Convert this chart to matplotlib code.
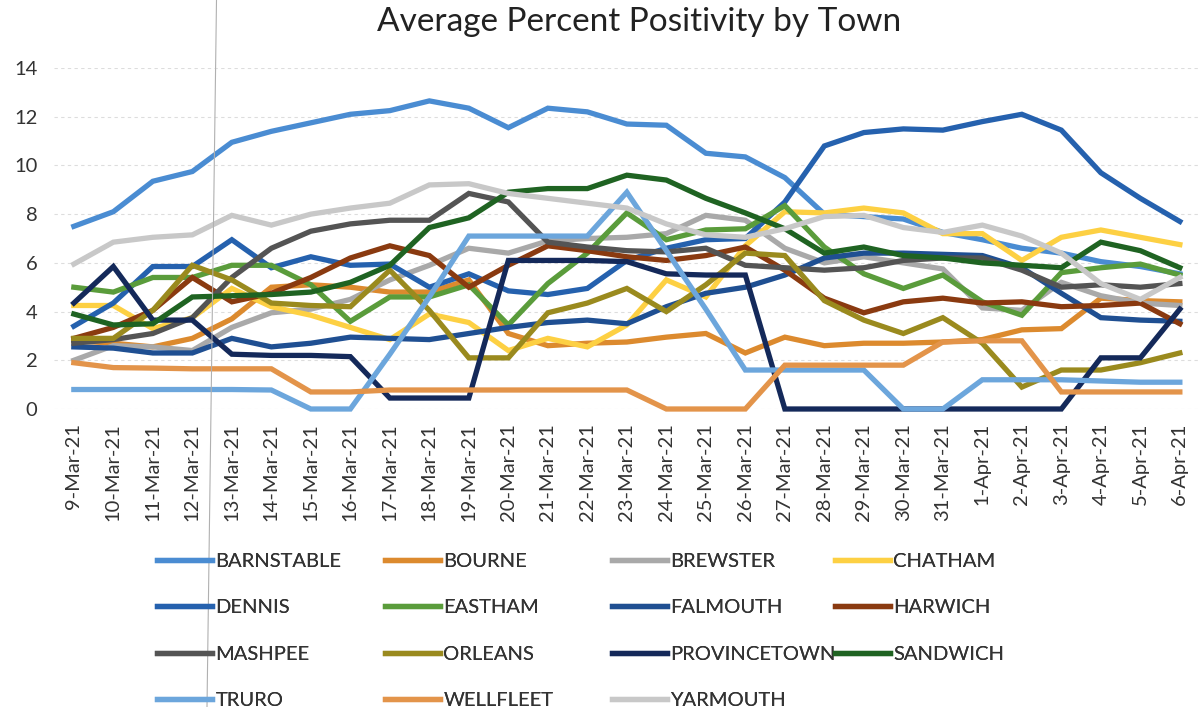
import matplotlib
matplotlib.use("Agg")
import matplotlib.pyplot as plt
from matplotlib.lines import Line2D

plt.rcParams["font.family"] = ["Lato", "DejaVu Sans"]

dates = ["9-Mar-21", "10-Mar-21", "11-Mar-21", "12-Mar-21", "13-Mar-21", "14-Mar-21",
         "15-Mar-21", "16-Mar-21", "17-Mar-21", "18-Mar-21", "19-Mar-21", "20-Mar-21",
         "21-Mar-21", "22-Mar-21", "23-Mar-21", "24-Mar-21", "25-Mar-21", "26-Mar-21",
         "27-Mar-21", "28-Mar-21", "29-Mar-21", "30-Mar-21", "31-Mar-21", "1-Apr-21",
         "2-Apr-21", "3-Apr-21", "4-Apr-21", "5-Apr-21", "6-Apr-21"]

barnstable = [7.5, 8.1, 9.35, 9.75, 10.95, 11.4, 11.75, 12.1, 12.25, 12.65, 12.35, 11.55, 12.35, 12.2, 11.7,
              11.65, 10.5, 10.35, 9.5, 8.0, 7.9, 7.8, 7.25, 6.95, 6.6, 6.4, 6.05, 5.85, 5.55]
bourne = [2.8, 2.7, 2.55, 2.9, 3.7, 5.0, 5.1, 5.0, 4.8, 4.8, 5.3, 3.1, 2.6, 2.7, 2.75,
          2.95, 3.1, 2.3, 2.95, 2.6, 2.7, 2.7, 2.75, 2.85, 3.25, 3.3, 4.55, 4.45, 4.4]
brewster = [2.0, 2.6, 2.55, 2.4, 3.35, 3.95, 4.1, 4.5, 5.3, 5.9, 6.6, 6.4, 6.9, 7.0, 7.05,
            7.2, 7.95, 7.75, 6.6, 6.0, 6.25, 6.0, 5.75, 4.15, 4.05, 5.2, 4.65, 4.35, 4.25]
chatham = [4.25, 4.25, 3.3, 3.75, 4.95, 4.2, 3.85, 3.35, 2.85, 3.9, 3.55, 2.4, 2.9, 2.55, 3.45,
           5.3, 4.6, 6.7, 8.1, 8.05, 8.25, 8.05, 7.2, 7.2, 6.1, 7.05, 7.35, 7.05, 6.75]
dennis = [3.4, 4.35, 5.85, 5.85, 6.95, 5.8, 6.25, 5.9, 5.95, 5.0, 5.55, 4.85, 4.7, 4.95, 6.1,
          6.6, 6.95, 7.0, 8.5, 10.8, 11.35, 11.5, 11.45, 11.8, 12.1, 11.45, 9.7, 8.65, 7.7]
eastham = [5.0, 4.8, 5.4, 5.4, 5.9, 5.9, 5.1, 3.6, 4.6, 4.6, 5.1, 3.45, 5.15, 6.4, 8.05,
           6.95, 7.35, 7.4, 8.35, 6.65, 5.55, 4.95, 5.5, 4.4, 3.85, 5.6, 5.8, 5.95, 5.5]
falmouth = [2.55, 2.5, 2.3, 2.3, 2.9, 2.55, 2.7, 2.95, 2.9, 2.85, 3.1, 3.35, 3.55, 3.65, 3.5,
            4.2, 4.75, 5.0, 5.5, 6.2, 6.4, 6.4, 6.35, 6.3, 5.8, 4.75, 3.75, 3.65, 3.6]
harwich = [2.9, 3.35, 4.05, 5.4, 4.4, 4.75, 5.4, 6.2, 6.7, 6.3, 5.0, 5.9, 6.7, 6.5, 6.25,
           6.1, 6.3, 6.65, 5.7, 4.55, 3.95, 4.4, 4.55, 4.35, 4.4, 4.2, 4.25, 4.35, 3.5]
mashpee = [2.7, 2.85, 3.1, 3.75, 5.4, 6.6, 7.3, 7.6, 7.75, 7.75, 8.85, 8.5, 6.85, 6.65, 6.5,
           6.45, 6.6, 5.9, 5.8, 5.7, 5.8, 6.1, 6.2, 6.2, 5.7, 5.0, 5.1, 5.0, 5.15]
orleans = [2.9, 2.9, 4.05, 5.9, 5.3, 4.35, 4.25, 4.2, 5.7, 4.05, 2.1, 2.1, 3.95, 4.35, 4.95,
           4.0, 5.1, 6.4, 6.3, 4.45, 3.65, 3.1, 3.75, 2.7, 0.9, 1.6, 1.6, 1.9, 2.3]
provincetown = [4.35, 5.85, 3.65, 3.65, 2.25, 2.2, 2.2, 2.15, 0.45, 0.45, 0.45, 6.1, 6.1, 6.1, 6.05,
                5.55, 5.5, 5.5, 0, 0, 0, 0, 0, 0, 0, 0, 2.1, 2.1, 4.1]
sandwich = [3.9, 3.45, 3.5, 4.6, 4.65, 4.7, 4.8, 5.2, 5.9, 7.45, 7.85, 8.9, 9.05, 9.05, 9.6,
            9.4, 8.65, 8.05, 7.4, 6.4, 6.65, 6.3, 6.2, 6.0, 5.9, 5.8, 6.85, 6.5, 5.8]
truro = [0.8, 0.8, 0.8, 0.8, 0.8, 0.78, 0, 0, 2.25, 4.6, 7.1, 7.1, 7.1, 7.1, 8.9,
         6.5, 4.1, 1.6, 1.6, 1.6, 1.6, 0, 0, 1.2, 1.2, 1.2, 1.15, 1.1, 1.1]
wellfleet = [1.9, 1.7, 1.68, 1.65, 1.65, 1.65, 0.7, 0.7, 0.78, 0.78, 0.78, 0.78, 0.78, 0.78, 0.78,
             0, 0, 0, 1.8, 1.8, 1.8, 1.8, 2.75, 2.8, 2.8, 0.7, 0.7, 0.7, 0.7]
yarmouth = [5.95, 6.85, 7.05, 7.15, 7.95, 7.55, 8.0, 8.25, 8.45, 9.2, 9.25, 8.85, 8.65, 8.45, 8.25,
            7.6, 7.15, 7.05, 7.4, 7.9, 7.95, 7.45, 7.25, 7.55, 7.1, 6.4, 5.15, 4.5, 5.4]

towns = ["BARNSTABLE", "BOURNE", "BREWSTER", "CHATHAM", "DENNIS", "EASTHAM", "FALMOUTH", "HARWICH",
         "MASHPEE", "ORLEANS", "PROVINCETOWN", "SANDWICH", "TRURO", "WELLFLEET", "YARMOUTH"]
series = [barnstable, bourne, brewster, chatham, dennis, eastham, falmouth, harwich,
          mashpee, orleans, provincetown, sandwich, truro, wellfleet, yarmouth]
colors = ["#4a8cd2", "#dc8a2e", "#a9a9a9", "#fdd043", "#2561ae", "#5a9c3b", "#1f4f92", "#8a3a10",
          "#545454", "#9a8a1e", "#14295a", "#1f6322", "#6ca6dc", "#e3944a", "#c8c8c8"]

fig = plt.figure(figsize=(12.02, 7.07), dpi=100)
ax = fig.add_axes([0.045, 0.4215, 0.953, 0.4823])

x = list(range(len(dates)))
lines = []
for name, vals, col in zip(towns, series, colors):
    ln, = ax.plot(x, vals, color=col, lw=3.8, solid_joinstyle="miter", clip_on=False, label=name)
    lines.append(ln)

ax.set_xlim(-0.5, len(dates) - 0.5)
ax.set_ylim(0, 14)
ax.set_yticks(range(0, 15, 2))
ax.set_xticks(x)
ax.set_xticklabels(dates, rotation=90)
ax.tick_params(axis="both", length=0, labelsize=14.5, colors="#333333")
ax.tick_params(axis="x", pad=10)
ax.tick_params(axis="y", pad=12)
for s in ax.spines.values():
    s.set_visible(False)
ax.grid(axis="y", color="#dddddd", lw=0.8, ls=(0, (3, 3)))
ax.set_axisbelow(True)

fig.suptitle("Average Percent Positivity by Town", x=0.532, y=0.99, fontsize=24, color="#222222")

# legend laid out as 4 fixed-width columns like the original
col_x = [157, 385, 612, 835]
for c in range(4):
    idx = [i for i in range(len(towns)) if i % 4 == c]
    leg = fig.legend([lines[i] for i in idx], [towns[i] for i in idx],
                     loc="upper left", bbox_to_anchor=(col_x[c] / 1202, 1 - 553 / 707),
                     frameon=False, fontsize=14.5, handlelength=2.75, handletextpad=0.15,
                     borderpad=0, borderaxespad=0, labelspacing=1.45, labelcolor="#333333")
    fig.add_artist(leg)

# faint vertical scan line
fig.add_artist(Line2D([216.5 / 1202, 207 / 1202], [1, 0], transform=fig.transFigure,
                      color="#b0b0b0", lw=0.8))

fig.savefig("out.png", dpi=100)
